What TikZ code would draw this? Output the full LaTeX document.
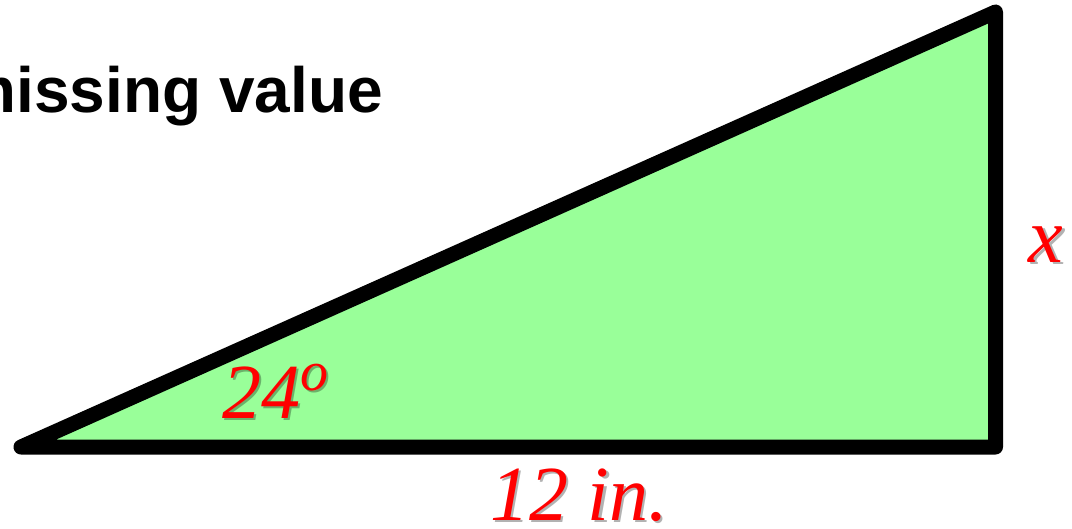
\documentclass[tikz,border=0pt]{standalone}
\usepackage{fontspec}
\setmainfont{Liberation Serif}
\newfontfamily\titlefont{Liberation Sans}
\definecolor{trifill}{HTML}{99FF99}
\definecolor{labred}{HTML}{FF0000}
\begin{document}
\begin{tikzpicture}[x=1pt,y=-1pt,
  tri/.style={draw=black,line width=15pt,line join=round,fill=trifill},
  lab/.style={font=\fontsize{78}{78}\selectfont\itshape,inner sep=0pt},
  titletext/.style={font=\titlefont\fontsize{64}{64}\selectfont\bfseries,inner sep=0pt}]
\clip (0,0) rectangle (1072,528);
\useasboundingbox (0,0) rectangle (1072,528);
\coordinate (A) at (21,447);
\coordinate (B) at (995.5,447);
\coordinate (C) at (995.5,12);
\draw[tri] (A) -- (B) -- (C) -- cycle;
\node[titletext,anchor=base east] (title) at (383,112) {missing value};
% shadows
\begin{scope}[shift={(2.5,2.5)}]
\node[lab,anchor=base west,text=black,opacity=0.3] (angs) at (222,418) {24\raisebox{28pt}{\fontsize{56}{56}\selectfont o}};
\node[lab,anchor=base,text=black,opacity=0.3] (bases) at (579,520) {12 in.};
\node[lab,anchor=base,text=black,opacity=0.3] (xs) at (1046,262) {x};
\end{scope}
\node[lab,anchor=base west,text=labred] (ang) at (222,418) {24\raisebox{28pt}{\fontsize{56}{56}\selectfont o}};
\node[lab,anchor=base,text=labred] (base) at (579,520) {12 in.};
\node[lab,anchor=base,text=labred] (xlab) at (1046,262) {x};
\end{tikzpicture}
\end{document}
